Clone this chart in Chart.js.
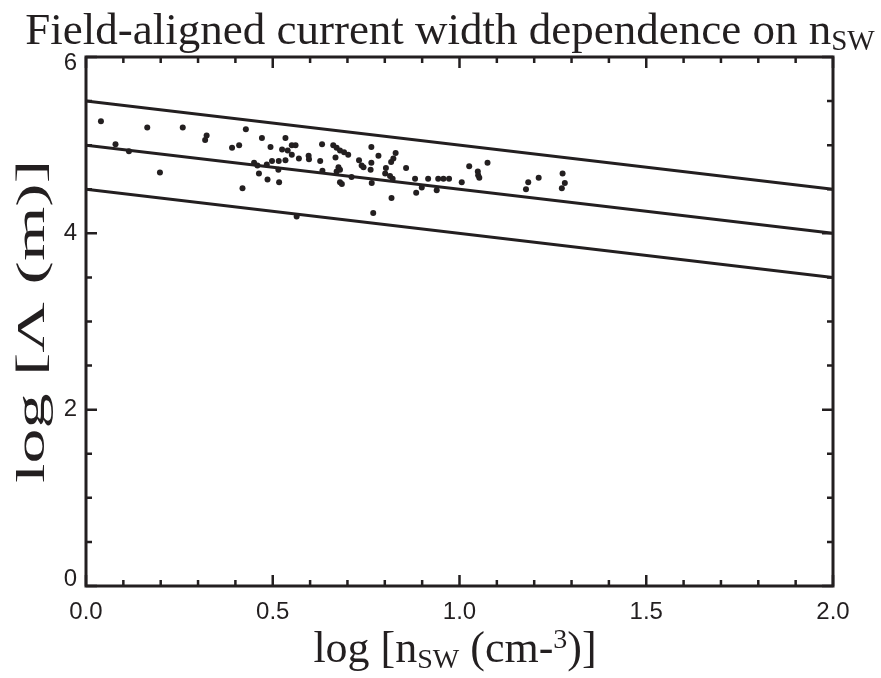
<!DOCTYPE html>
<html>
<head>
<meta charset="utf-8">
<script src="https://cdn.jsdelivr.net/npm/chart.js@4.4.1/dist/chart.umd.min.js"></script>
<style>
  html, body { margin: 0; padding: 0; background: #fff; }
  #fac { display: block; }
</style>
</head>
<body>
<canvas id="fac" width="881" height="678"></canvas>
<script>
// log n_sw (x) and log width (y) for each event
const logNsw = [
  0.040, 0.079, 0.115, 0.164, 0.198, 0.259, 0.319, 0.323, 0.391, 0.410,
  0.419, 0.428, 0.450, 0.459, 0.463, 0.471, 0.484, 0.486, 0.494, 0.498,
  0.515, 0.516, 0.517, 0.525, 0.534, 0.534, 0.540, 0.551, 0.551, 0.561,
  0.564, 0.570, 0.596, 0.597, 0.627, 0.632, 0.633, 0.662, 0.668, 0.671,
  0.671, 0.676, 0.680, 0.680, 0.680, 0.685, 0.691, 0.702, 0.711, 0.731,
  0.738, 0.743, 0.762, 0.764, 0.764, 0.765, 0.769, 0.783, 0.801, 0.803,
  0.814, 0.817, 0.818, 0.821, 0.823, 0.829, 0.857, 0.881, 0.884, 0.899,
  0.916, 0.939, 0.943, 0.957, 0.972, 1.006, 1.026, 1.049, 1.050, 1.053,
  1.075, 1.178, 1.184, 1.212, 1.276, 1.274, 1.282
];
const logWidth = [
  5.27, 5.01, 4.93, 5.20, 4.69, 5.20, 5.06, 5.11, 4.97, 5.00,
  4.51, 5.18, 4.80, 4.77, 4.68, 5.08, 4.78, 4.61, 4.98, 4.82,
  4.72, 4.82, 4.58, 4.95, 5.08, 4.83, 4.94, 5.00, 4.89, 5.00,
  4.19, 4.85, 4.88, 4.84, 4.82, 5.01, 4.71, 5.00, 4.86, 4.97,
  4.70, 4.75, 4.94, 4.72, 4.58, 4.56, 4.92, 4.89, 4.64, 4.83,
  4.77, 4.75, 4.72, 4.98, 4.80, 4.57, 4.23, 4.88, 4.68, 4.74,
  4.65, 4.81, 4.40, 4.62, 4.85, 4.91, 4.74, 4.62, 4.46, 4.52,
  4.62, 4.49, 4.62, 4.62, 4.62, 4.58, 4.76, 4.70, 4.66, 4.63,
  4.80, 4.50, 4.58, 4.63, 4.68, 4.51, 4.57
];

// the three reference lines (slope -1/2)
const lineX = [0, 2];
const upperLine = [5.5, 4.5];
const middleLine = [5.0, 4.0];
const lowerLine = [4.5, 3.5];

// axis ticks
const xTicks = [0.0, 0.5, 1.0, 1.5, 2.0];
const xMinor = [0.1, 0.2, 0.3, 0.4, 0.6, 0.7, 0.8, 0.9, 1.1, 1.2, 1.3, 1.4, 1.6, 1.7, 1.8, 1.9];
const yTicks = [0, 2, 4, 6];
const yMinor = [0.5, 1, 1.5, 2.5, 3, 3.5, 4.5, 5, 5.5];

const ink = '#231f20';
const serif = '"Liberation Serif", "Times New Roman", serif';
const sans = '"Liberation Sans", Arial, sans-serif';

const toPoints = (xs, ys) => xs.map((x, i) => ({ x: x, y: ys[i] }));

// text with sub/superscripts, parts = [text, size, dy]
function drawRich(ctx, parts, x, y) {
  let total = 0;
  parts.forEach(p => {
    ctx.font = p[1] + 'px ' + serif;
    total += ctx.measureText(p[0]).width;
  });
  let cx = x - total / 2;
  ctx.textAlign = 'left';
  ctx.textBaseline = 'alphabetic';
  parts.forEach(p => {
    ctx.font = p[1] + 'px ' + serif;
    ctx.fillText(p[0], cx, y + p[2]);
    cx += ctx.measureText(p[0]).width;
  });
}

const frameAndText = {
  id: 'frameAndText',
  afterDatasetsDraw(chart) {
    const ctx = chart.ctx;
    const a = chart.chartArea;
    const xs = chart.scales.x;
    const ys = chart.scales.y;
    ctx.save();
    ctx.strokeStyle = ink;
    ctx.fillStyle = ink;

    // frame
    ctx.lineWidth = 3;
    ctx.strokeRect(a.left, a.top, a.right - a.left, a.bottom - a.top);

    // inward ticks on all four sides
    ctx.lineWidth = 2.5;
    ctx.beginPath();
    const xTick = (v, len) => {
      const px = xs.getPixelForValue(v);
      ctx.moveTo(px, a.bottom); ctx.lineTo(px, a.bottom - len);
      ctx.moveTo(px, a.top); ctx.lineTo(px, a.top + len);
    };
    const yTick = (v, len) => {
      const py = ys.getPixelForValue(v);
      ctx.moveTo(a.left, py); ctx.lineTo(a.left + len, py);
      ctx.moveTo(a.right, py); ctx.lineTo(a.right - len, py);
    };
    xTicks.forEach(v => xTick(v, 11));
    xMinor.forEach(v => xTick(v, 6));
    yTicks.forEach(v => yTick(v, 11));
    yMinor.forEach(v => yTick(v, 6));
    ctx.stroke();

    // y tick labels; the end labels are nudged inside the frame
    ctx.font = '24px ' + sans;
    ctx.textAlign = 'right';
    ctx.textBaseline = 'middle';
    yTicks.forEach(v => {
      let py = ys.getPixelForValue(v);
      if (v === yTicks[0]) py -= 7;
      if (v === yTicks[yTicks.length - 1]) py += 6;
      ctx.fillText(String(v), a.left - 9, py);
    });

    // title
    drawRich(ctx, [
      ['Field-aligned current width dependence on n', 45, 0],
      ['SW', 29, 6]
    ], 450, 44);

    // x title
    drawRich(ctx, [
      ['log [n', 44, 0],
      ['SW', 28, 6],
      [' (cm-', 44, 0],
      ['3', 28, -14],
      [')]', 44, 0]
    ], 455, 662);

    // y title, stretched along the axis like the original
    ctx.translate(44, (a.top + a.bottom) / 2);
    ctx.rotate(-Math.PI / 2);
    ctx.scale(1.75, 1);
    drawRich(ctx, [['log [\u039b (m)]', 40, 0]], 0, 0);
    ctx.restore();
  }
};

new Chart(document.getElementById('fac'), {
  type: 'scatter',
  data: {
    datasets: [
      {
        data: toPoints(logNsw, logWidth),
        backgroundColor: ink,
        borderColor: ink,
        pointRadius: 3,
        pointBorderWidth: 0
      },
      {
        type: 'line',
        data: toPoints(lineX, upperLine),
        borderColor: ink, borderWidth: 3, pointRadius: 0, fill: false
      },
      {
        type: 'line',
        data: toPoints(lineX, middleLine),
        borderColor: ink, borderWidth: 3, pointRadius: 0, fill: false
      },
      {
        type: 'line',
        data: toPoints(lineX, lowerLine),
        borderColor: ink, borderWidth: 3, pointRadius: 0, fill: false
      }
    ]
  },
  options: {
    responsive: false,
    animation: false,
    layout: { padding: { left: 0, top: 57, right: 48, bottom: 0 } },
    plugins: {
      legend: { display: false },
      tooltip: { enabled: false },
      title: { display: false }
    },
    scales: {
      x: {
        type: 'linear',
        min: 0,
        max: 2,
        grid: { display: false, drawTicks: false },
        border: { display: false },
        afterBuildTicks: s => { s.ticks = xTicks.map(v => ({ value: v })); },
        afterFit: s => { s.height = 92; },
        ticks: {
          color: ink,
          font: { family: sans, size: 24 },
          padding: 12,
          maxRotation: 0,
          callback: v => v.toFixed(1)
        }
      },
      y: {
        type: 'linear',
        min: 0,
        max: 6,
        grid: { display: false, drawTicks: false },
        border: { display: false },
        afterBuildTicks: s => { s.ticks = yTicks.map(v => ({ value: v })); },
        afterFit: s => { s.width = 86; },
        ticks: { display: false }
      }
    }
  },
  plugins: [frameAndText]
});
</script>
</body>
</html>
